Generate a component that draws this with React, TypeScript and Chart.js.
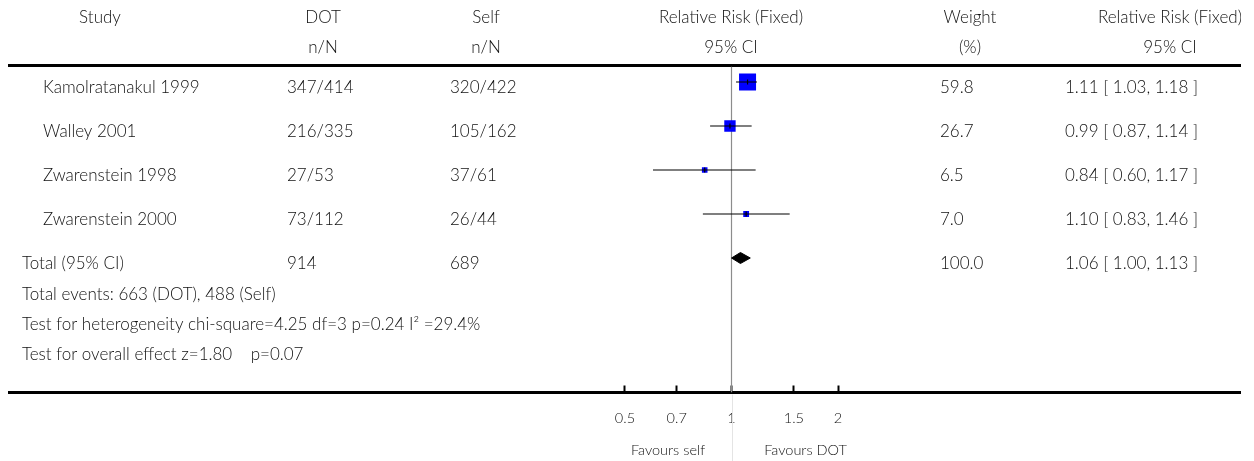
import React, { useEffect, useRef } from 'react';
import { Chart, registerables } from 'chart.js';

Chart.register(...registerables);

// ---------- data ----------
const STUDIES = ['Kamolratanakul 1999', 'Walley 2001', 'Zwarenstein 1998', 'Zwarenstein 2000'];
const DOT_NN = ['347/414', '216/335', '27/53', '73/112'];
const SELF_NN = ['320/422', '105/162', '37/61', '26/44'];
const RR = [1.11, 0.99, 0.84, 1.1];
const RR_LO = [1.03, 0.87, 0.6, 0.83];
const RR_HI = [1.18, 1.14, 1.17, 1.46];
const WEIGHTS = [59.8, 26.7, 6.5, 7.0];
const WEIGHT_LABELS = ['59.8', '26.7', '6.5', '7.0'];
const CI_LABELS = ['1.11 [ 1.03, 1.18 ]', '0.99 [ 0.87, 1.14 ]', '0.84 [ 0.60, 1.17 ]', '1.10 [ 0.83, 1.46 ]'];

const TOTAL_LABEL = 'Total (95% CI)';
const TOTAL_DOT = '914';
const TOTAL_SELF = '689';
const TOTAL_RR = 1.06;
const TOTAL_LO = 1.0;
const TOTAL_HI = 1.13;
const TOTAL_WEIGHT = '100.0';
const TOTAL_CI = '1.06 [ 1.00, 1.13 ]';

const HEADER_1 = ['Study', 'DOT', 'Self', 'Relative Risk (Fixed)', 'Weight', 'Relative Risk (Fixed)'];
const HEADER_2 = ['', 'n/N', 'n/N', '95% CI', '(%)', '95% CI'];
const FOOTNOTES = [
  'Total events: 663 (DOT), 488 (Self)',
  'Test for heterogeneity chi-square=4.25 df=3 p=0.24 I\u00B2 =29.4%',
  'Test for overall effect z=1.80    p=0.07',
];
const TICK_VALUES = [0.5, 0.7, 1, 1.5, 2];
const TICK_LABELS = ['0.5', '0.7', '1', '1.5', '2'];
const FAVOURS_LEFT = 'Favours self';
const FAVOURS_RIGHT = 'Favours DOT';
const NULL_VALUE = 1;

// ---------- layout constants ----------
const W = 1233;
const H = 453;
const X_MIN = 0.009029;
const X_MAX = 27.52;
const Y_MIN = -1.6818;
const Y_MAX = 7.0568;
const FONT_SIZE = 17;
const AXIS_FONT_SIZE = 14.5;
const FONT = `300 ${FONT_SIZE}px Lato`;
const AXIS_FONT = `300 ${AXIS_FONT_SIZE}px Lato`;
const TEXT_COLOR = '#111';

// column positions (canvas px)
const COL_HEADER_CENTER = [92, 315, 478, 723, 962, 1162];
const COL_NAME = 35;
const COL_TOTAL = 14;
const COL_DOT = 279;
const COL_SELF = 442;
const COL_WEIGHT = 932;
const COL_CI = 1057;

// rows (in y-scale units)
const ROW_HEADER_1 = -1.34;
const ROW_HEADER_2 = -0.66;
const ROW_RULE = -0.375;
const ROW_TEXT_OFFSET = 0.25;
const ROW_FOOTNOTES = [4.955, 5.636, 6.318];
const ROW_FAVOURS = 8.48;
const DIAMOND_HALF = 0.125;

const tablePlugin = {
  id: 'forestTable',
  beforeDatasetsDraw(chart: any) {
    const { ctx, chartArea, scales } = chart;
    const y = scales.y;
    ctx.save();
    ctx.strokeStyle = '#000';
    ctx.lineWidth = 3;
    ctx.beginPath();
    const ry = y.getPixelForValue(ROW_RULE);
    ctx.moveTo(chartArea.left, ry);
    ctx.lineTo(chartArea.right, ry);
    ctx.stroke();
    ctx.restore();
  },
  afterDraw(chart: any) {
    const { ctx, scales, height } = chart;
    const x = scales.x;
    const y = scales.y;
    ctx.save();
    ctx.font = FONT;
    ctx.fillStyle = TEXT_COLOR;
    ctx.textBaseline = 'alphabetic';

    // headers
    ctx.textAlign = 'center';
    HEADER_1.forEach((t, i) => ctx.fillText(t, COL_HEADER_CENTER[i], y.getPixelForValue(ROW_HEADER_1)));
    HEADER_2.forEach((t, i) => t && ctx.fillText(t, COL_HEADER_CENTER[i], y.getPixelForValue(ROW_HEADER_2)));

    // study rows
    ctx.textAlign = 'left';
    STUDIES.forEach((s, i) => {
      const py = y.getPixelForValue(i + ROW_TEXT_OFFSET);
      ctx.fillText(s, COL_NAME, py);
      ctx.fillText(DOT_NN[i], COL_DOT, py);
      ctx.fillText(SELF_NN[i], COL_SELF, py);
      ctx.fillText(WEIGHT_LABELS[i], COL_WEIGHT, py);
      ctx.fillText(CI_LABELS[i], COL_CI, py);
    });
    const ty = y.getPixelForValue(STUDIES.length + ROW_TEXT_OFFSET);
    ctx.fillText(TOTAL_LABEL, COL_TOTAL, ty);
    ctx.fillText(TOTAL_DOT, COL_DOT, ty);
    ctx.fillText(TOTAL_SELF, COL_SELF, ty);
    ctx.fillText(TOTAL_WEIGHT, COL_WEIGHT, ty);
    ctx.fillText(TOTAL_CI, COL_CI, ty);

    FOOTNOTES.forEach((f, i) => ctx.fillText(f, COL_TOTAL, y.getPixelForValue(ROW_FOOTNOTES[i])));

    // faint separator under the axis
    const nx = Math.round(x.getPixelForValue(NULL_VALUE)) + 0.5;
    ctx.strokeStyle = '#e4e4e4';
    ctx.lineWidth = 1;
    ctx.beginPath();
    ctx.moveTo(nx, chart.chartArea.bottom + 2);
    ctx.lineTo(nx, height);
    ctx.stroke();

    const fy = y.getPixelForValue(ROW_FAVOURS);
    ctx.font = AXIS_FONT;
    ctx.textAlign = 'center';
    ctx.fillText(FAVOURS_LEFT, nx - 64.5, fy);
    ctx.fillText(FAVOURS_RIGHT, nx + 73, fy);
    ctx.restore();
  },
};

export default function App() {
  const ref = useRef<HTMLCanvasElement | null>(null);

  useEffect(() => {
    if (!ref.current) return;
    const ciDatasets = STUDIES.map((s, i) => ({
      type: 'line' as const,
      label: s + ' CI',
      data: [
        { x: RR_LO[i], y: i },
        { x: RR[i], y: i },
        { x: RR_HI[i], y: i },
      ],
      showLine: true,
      borderColor: '#000',
      borderWidth: 1.2,
      pointRadius: [0, 2.5, 0],
      pointStyle: 'line',
      rotation: 90,
      pointBorderColor: '#000',
      pointBorderWidth: 1.2,
      fill: false,
      order: 0,
    }));

    const chart = new Chart(ref.current, {
      type: 'scatter',
      data: {
        datasets: [
          ...ciDatasets,
          {
            label: 'Studies',
            data: RR.map((v, i) => ({ x: v, y: i })),
            pointStyle: 'rect',
            pointRadius: WEIGHTS.map((w) => 1.556 * Math.sqrt(w)),
            backgroundColor: '#0000ff',
            borderWidth: 0,
            pointBorderWidth: 0,
            order: 1,
          } as any,
          {
            type: 'line',
            label: 'Total',
            data: [
              { x: TOTAL_LO, y: STUDIES.length },
              { x: TOTAL_RR, y: STUDIES.length - DIAMOND_HALF },
              { x: TOTAL_HI, y: STUDIES.length },
              { x: TOTAL_RR, y: STUDIES.length + DIAMOND_HALF },
              { x: TOTAL_LO, y: STUDIES.length },
            ],
            showLine: true,
            borderColor: '#000',
            backgroundColor: '#000',
            borderWidth: 1,
            pointRadius: 0,
            fill: 'shape',
            tension: 0,
            order: 0,
          } as any,
          {
            type: 'line',
            label: 'No effect',
            data: [
              { x: NULL_VALUE, y: ROW_RULE + 0.03 },
              { x: NULL_VALUE, y: Y_MAX },
            ],
            showLine: true,
            borderColor: '#8c8c8c',
            borderWidth: 1.2,
            pointRadius: 0,
            fill: false,
            order: 3,
          } as any,
        ],
      },
      options: {
        animation: false,
        responsive: true,
        maintainAspectRatio: false,
        layout: { padding: 0, autoPadding: false },
        plugins: { legend: { display: false }, tooltip: { enabled: false } },
        scales: {
          x: {
            type: 'logarithmic',
            min: X_MIN,
            max: X_MAX,
            position: 'bottom',
            afterBuildTicks: (s: any) => {
              s.ticks = TICK_VALUES.map((v) => ({ value: v }));
            },
            afterFit: (s: any) => {
              s.height = 68.5;
            },
            ticks: {
              autoSkip: false,
              maxRotation: 0,
              padding: 24.5,
              color: TEXT_COLOR,
              font: { family: 'Lato', size: AXIS_FONT_SIZE, weight: '300' },
              callback: (_v: any, i: number) => TICK_LABELS[i],
            },
            grid: {
              display: true,
              drawOnChartArea: false,
              drawTicks: true,
              tickLength: -7,
              tickWidth: 2,
              tickColor: '#000',
            },
            border: { display: true, color: '#000', width: 3 },
          } as any,
          y: {
            type: 'linear',
            reverse: true,
            min: Y_MIN,
            max: Y_MAX,
            display: false,
          },
        },
      },
      plugins: [tablePlugin],
    } as any);
    return () => chart.destroy();
  }, []);

  return (
    <div style={{ position: 'relative', width: W, height: H }}>
      <canvas ref={ref} />
    </div>
  );
}
